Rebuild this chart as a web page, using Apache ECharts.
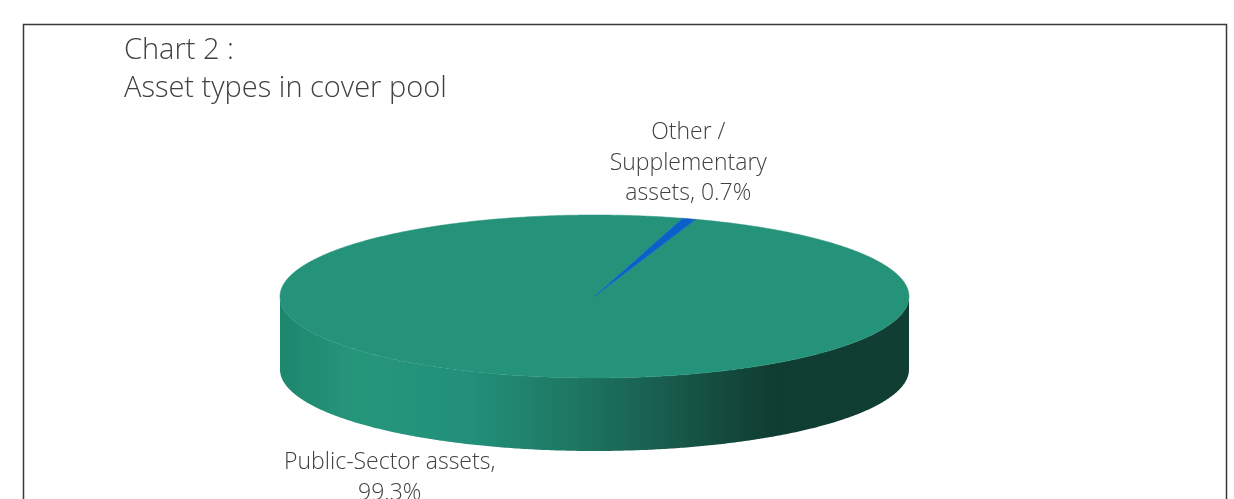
<!DOCTYPE html>
<html>
<head>
<meta charset="utf-8">
<script src="https://cdn.jsdelivr.net/npm/echarts@6/dist/echarts.min.js"></script>
<style>
  html, body { margin: 0; padding: 0; background: #fff; }
  #chart { width: 1234px; height: 499px; }
</style>
</head>
<body>
<div id="chart"></div>
<script>
// data
const categories = ['Public-Sector assets', 'Other /\nSupplementary\nassets'];
const labelSeparators = [',\n', ', '];
const shares = [99.3, 0.7];
const sliceColors = ['#25937a', '#0b5fc9'];

// fake 3d pie geometry
const pie = {
  cx: 594.5,
  cy: 296.5,
  rx: 314.5,
  ry: 81.5,
  depth: 73,
  firstAngle: 18.8
};
const labelOffsets = [[-110, 0], [-1, -10]];
const FONT = '"Open Sans", Lato, sans-serif';

const total = shares.reduce((a, b) => a + b, 0);

function pt(a, dy) {
  const r = a * Math.PI / 180;
  return [pie.cx + pie.rx * Math.sin(r), pie.cy - pie.ry * Math.cos(r) + (dy || 0)];
}

function arcPoints(a0, a1, dy) {
  const pts = [];
  const n = Math.max(2, Math.ceil(Math.abs(a1 - a0) / 0.5));
  for (let i = 0; i <= n; i++) {
    pts.push(pt(a0 + (a1 - a0) * i / n, dy));
  }
  return pts;
}

const sideGradient = new echarts.graphic.LinearGradient(280, 0, 909, 0, [
  { offset: 0, color: '#1d876e' },
  { offset: 0.12, color: '#26967b' },
  { offset: 0.3, color: '#22907a' },
  { offset: 0.45, color: '#1d7a64' },
  { offset: 0.57, color: '#1a6453' },
  { offset: 0.78, color: '#103d32' },
  { offset: 1, color: '#113e33' }
], true);

function renderItem(params, api) {
  const idx = params.dataIndex;
  let before = 0;
  for (let i = 0; i < idx; i++) before += shares[i];
  const value = api.value(0);
  const a0 = pie.firstAngle + before / total * 360;
  const a1 = a0 + value / total * 360;
  const children = [];

  // front wall
  for (let k = 0; k < 3; k++) {
    const lo = Math.max(a0, 90 + 360 * k);
    const hi = Math.min(a1, 270 + 360 * k);
    if (hi > lo) {
      const top = arcPoints(lo, hi, 0);
      const bottom = arcPoints(hi, lo, pie.depth);
      children.push({
        type: 'polygon',
        z2: 1,
        shape: { points: top.concat(bottom) },
        style: { fill: idx === 0 ? sideGradient : sliceColors[idx] }
      });
    }
  }

  // top face
  children.push({
    type: 'polygon',
    z2: 10,
    shape: { points: [[pie.cx, pie.cy]].concat(arcPoints(a0, a1, 0)) },
    style: { fill: sliceColors[idx], stroke: sliceColors[idx], lineWidth: 0.5 }
  });

  // label
  const mid = (a0 + a1) / 2;
  const back = Math.cos(mid * Math.PI / 180) > 0;
  const anchor = pt(mid, back ? 0 : pie.depth);
  const off = labelOffsets[idx];
  children.push({
    type: 'text',
    z2: 20,
    x: anchor[0] + off[0],
    y: anchor[1] + off[1],
    style: {
      text: categories[idx] + labelSeparators[idx] + value.toFixed(1) + '%',
      fill: '#404040',
      font: '300 23px ' + FONT,
      lineHeight: 30.5,
      align: 'center',
      verticalAlign: back ? 'bottom' : 'top'
    }
  });

  return { type: 'group', children: children };
}

const chart = echarts.init(document.getElementById('chart'));
chart.setOption({
  animation: false,
  title: {
    text: 'Chart 2 :\nAsset types in cover pool',
    left: 124,
    top: 32,
    padding: 0,
    textStyle: {
      fontFamily: FONT,
      fontWeight: 300,
      fontSize: 29,
      lineHeight: 38,
      color: '#404040'
    }
  },
  graphic: [{
    type: 'rect',
    shape: { x: 23.5, y: 24.5, width: 1203, height: 520 },
    style: { fill: 'none', stroke: '#3a3a3a', lineWidth: 1.5 },
    silent: true
  }],
  series: [{
    type: 'custom',
    coordinateSystem: 'none',
    data: shares.map(v => [v]),
    renderItem: renderItem
  }]
});
</script>
</body>
</html>
